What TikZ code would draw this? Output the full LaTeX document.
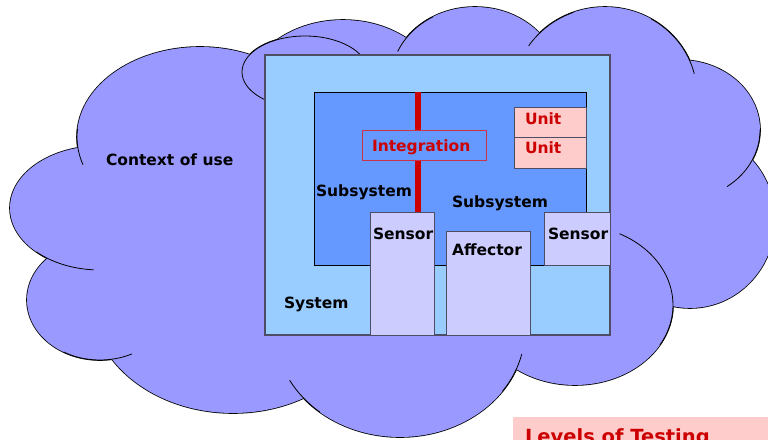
\documentclass[tikz,border=0pt]{standalone}
\usepackage{fontspec}
\setmainfont{DejaVu Sans}
\definecolor{cloudfill}{HTML}{9999FF}
\definecolor{sysfill}{HTML}{99CCFF}
\definecolor{subfill}{HTML}{6699FF}
\definecolor{sensfill}{HTML}{CCCCFF}
\definecolor{unitfill}{HTML}{FFCCCC}
\definecolor{testred}{HTML}{CC0000}
\definecolor{edgegrey}{HTML}{4D4D66}
\definecolor{integedge}{HTML}{CC3344}
\tikzset{
  cloudline/.style={draw=black, line width=0.8pt},
  plainbox/.style={rectangle, anchor=north west, inner sep=0pt, outer sep=0pt},
  sysbox/.style={plainbox, fill=sysfill, draw=edgegrey, line width=1.2pt},
  subbox/.style={plainbox, fill=subfill, draw=black, line width=0.9pt},
  integbox/.style={plainbox, fill=subfill, draw=integedge, line width=1pt},
  unitbox/.style={plainbox, fill=unitfill, draw=edgegrey, line width=1pt},
  sensbox/.style={plainbox, fill=sensfill, draw=edgegrey, line width=1pt},
  titlebox/.style={plainbox, fill=unitfill},
  lbl/.style={anchor=base west, inner sep=0pt, outer sep=0pt,
    font=\fontsize{15.5}{18}\selectfont\bfseries},
  redlbl/.style={lbl, text=testred},
  redbar/.style={draw=testred, line width=5.7pt},
}
% a piece of one lobe's outline that runs on inside the cloud
\newcommand\cloudarc[6]{%
  \draw[cloudline] (#1,#2) ++(#5:#3 and #4)
    arc[start angle=#5, end angle=#6, x radius=#3, y radius=#4];}
\begin{document}
\begin{tikzpicture}[x=1pt, y=-1pt]
  \useasboundingbox (0,0) rectangle (768,439);
  \clip (0,0) rectangle (768,439);

  % cloud: union of lobes, outlined, then filled over the inner edges
  \def\lobelist{200/137/123/90, 100/208/90/62, 100/300/73/60,
    233/300/142/113, 400/330/125/107, 575/305/98/80, 690/220/85/88,
    680/130/80/70, 605/95/92/88, 475/80/84/73, 343/100/100/80, 305/72/63/36}
  \foreach \cx/\cy/\rx/\ry in \lobelist
    \draw[black, line width=1.6pt] (\cx,\cy) ellipse [x radius=\rx, y radius=\ry];
  \foreach \cx/\cy/\rx/\ry in \lobelist
    \fill[cloudfill] (\cx,\cy) ellipse [x radius=\rx, y radius=\ry];
  % body of the cloud between the lobes
  \fill[cloudfill] (640,205) ellipse [x radius=50, y radius=50];
  \fill[cloudfill] (250,220) ellipse [x radius=60, y radius=60];

  % inner arcs of the cloud
  \cloudarc{200}{137}{123}{90}{162}{185}
  \cloudarc{100}{208}{90}{62}{94}{135}
  \cloudarc{100}{300}{73}{60}{64}{120}
  \cloudarc{400}{330}{125}{107}{130}{152}
  \cloudarc{400}{330}{125}{107}{13}{35}
  \cloudarc{575}{305}{98}{80}{-63}{30}
  \cloudarc{680}{130}{80}{70}{0}{54}
  \cloudarc{605}{95}{92}{88}{-60}{-14}
  \cloudarc{605}{95}{92}{88}{214}{250}
  \cloudarc{475}{80}{84}{73}{203}{240}
  \draw[cloudline] (305,72) ellipse [x radius=63, y radius=36];

  % system and its parts
  \node[sysbox, minimum width=345pt, minimum height=280pt] (system) at (265,55) {};
  \node[subbox, minimum width=272pt, minimum height=173pt] (subsys) at (314,92) {};
  \coordinate (bartop) at (418,92);
  \coordinate (barbot) at (418,212);
  \draw[redbar] (bartop) -- (barbot);
  \node[integbox, minimum width=124pt, minimum height=30pt] (integ) at (362,130) {};
  \node[unitbox, minimum width=72pt, minimum height=30pt] (unitA) at (514,107) {};
  \node[unitbox, minimum width=72pt, minimum height=31pt] (unitB) at (514,137) {};
  \node[sensbox, minimum width=64pt, minimum height=123pt] (sensL) at (370,212) {};
  \node[sensbox, minimum width=84pt, minimum height=104pt] (affect) at (446,231) {};
  \node[sensbox, minimum width=66pt, minimum height=53pt] (sensR) at (544,212) {};

  % labels
  \node[lbl] (tcontext) at (106,165) {Context of use};
  \node[lbl] (tsubL) at (316,196) {Subsystem};
  \node[lbl] (tsubR) at (452,207) {Subsystem};
  \node[redlbl] (tinteg) at (372,151) {Integration};
  \node[redlbl] (tunitA) at (525,124) {Unit};
  \node[redlbl] (tunitB) at (525,153) {Unit};
  \node[lbl] (tsensL) at (373,239) {Sensor};
  \node[lbl] (taffect) at (452,255) {Affector};
  \node[lbl] (tsensR) at (548,239) {Sensor};
  \node[lbl] (tsystem) at (284,308) {System};

  % title strip along the lower edge
  \node[titlebox, minimum width=270pt, minimum height=50pt] (title) at (513,417) {};
  \node[redlbl, font=\fontsize{19.5}{23}\selectfont\bfseries] (ttitle) at (525,443) {Levels of Testing};
\end{tikzpicture}
\end{document}
